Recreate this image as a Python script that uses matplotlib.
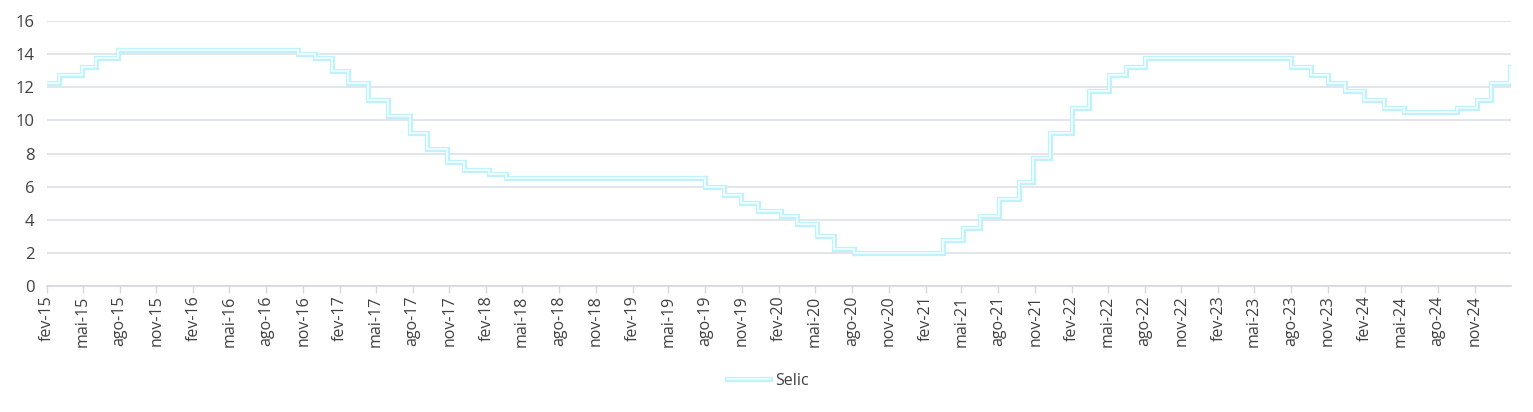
import matplotlib
matplotlib.use("Agg")
import matplotlib.pyplot as plt
import numpy as np
import datetime as dt

# Selic target changes (COPOM meetings) and the rate in force from each date
change_dates = ["2015-02-01", "2015-03-04", "2015-04-29", "2015-06-03", "2015-07-29",
                "2016-10-19", "2016-11-30",
                "2017-01-11", "2017-02-22", "2017-04-12", "2017-05-31", "2017-07-26",
                "2017-09-06", "2017-10-25", "2017-12-06",
                "2018-02-07", "2018-03-21",
                "2019-07-31", "2019-09-18", "2019-10-30", "2019-12-11",
                "2020-02-05", "2020-03-18", "2020-05-06", "2020-06-17", "2020-08-05",
                "2021-03-17", "2021-05-05", "2021-06-16", "2021-08-04", "2021-09-22",
                "2021-10-27", "2021-12-08",
                "2022-02-02", "2022-03-16", "2022-05-04", "2022-06-15", "2022-08-03",
                "2023-08-02", "2023-09-20", "2023-11-01", "2023-12-13",
                "2024-01-31", "2024-03-20", "2024-05-08", "2024-09-18", "2024-11-06",
                "2024-12-11", "2025-01-29"]
selic = [12.25, 12.75, 13.25, 13.75, 14.25,
         14.00, 13.75,
         13.00, 12.25, 11.25, 10.25, 9.25,
         8.25, 7.50, 7.00,
         6.75, 6.50,
         6.00, 5.50, 5.00, 4.50,
         4.25, 3.75, 3.00, 2.25, 2.00,
         2.75, 3.50, 4.25, 5.25, 6.25,
         7.75, 9.25,
         10.75, 11.75, 12.75, 13.25, 13.75,
         13.25, 12.75, 12.25, 11.75,
         11.25, 10.75, 10.50, 10.75, 11.25,
         12.25, 13.25]
end_date = "2025-01-31"

meses = ["jan", "fev", "mar", "abr", "mai", "jun", "jul", "ago", "set", "out", "nov", "dez"]

dates = [dt.datetime.strptime(d, "%Y-%m-%d") for d in change_dates]
x0 = dates[0]
x1 = dt.datetime.strptime(end_date, "%Y-%m-%d")

fig = plt.figure(figsize=(15.33, 4.12), dpi=100)
ax = fig.add_axes([47/1533, 1 - 286/412, (1511-47)/1533, (286-21)/412])

# double line look: light cyan outer, near-white core
outer, = ax.step(dates, selic, where="post", color="#c0f2fb", lw=3.8, solid_joinstyle="miter",
                 zorder=3)
inner, = ax.step(dates, selic, where="post", color="#f2fdff", lw=1.3, solid_joinstyle="miter",
                 zorder=4)

ax.set_ylim(0, 16)
ax.set_yticks(np.arange(0, 17, 2))
ax.set_xlim(x0, x1)

ticks = []
y, m = 2015, 2
while dt.datetime(y, m, 1) <= x1:
    ticks.append(dt.datetime(y, m, 1))
    m += 3
    if m > 12:
        m -= 12
        y += 1
ax.set_xticks(ticks)
ax.set_xticklabels([f"{meses[t.month-1]}-{t.year % 100:02d}" for t in ticks],
                   rotation=90, fontsize=11.5, color="#404040", family="Open Sans")

for lab in ax.get_yticklabels():
    lab.set_family("Open Sans")
ax.tick_params(axis="y", length=0, labelsize=12, labelcolor="#404040", pad=9)
ax.tick_params(axis="x", length=5, color="#d3d8df", width=1, pad=2)

ax.grid(axis="y", color="#dde1e7", lw=1.2)
ax.set_axisbelow(True)
for s in ["top", "right", "left"]:
    ax.spines[s].set_visible(False)
ax.spines["bottom"].set_color("#d3d8df")
ax.spines["bottom"].set_linewidth(1.2)

leg = fig.legend([(outer, inner)], ["Selic"], loc="center",
                 bbox_to_anchor=(768/1533, 1 - 381/412), frameon=False,
                 prop={"family": "Open Sans", "size": 11.5}, handlelength=2.7,
                 handletextpad=0.3)
for t in leg.get_texts():
    t.set_color("#404040")

fig.savefig("out.png", dpi=100)
